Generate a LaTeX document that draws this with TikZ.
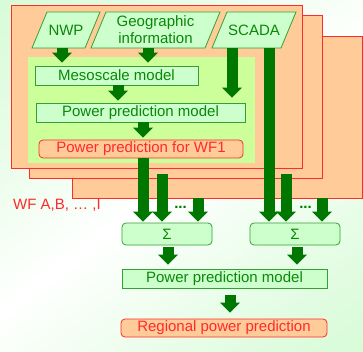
\documentclass[tikz,border=0pt]{standalone}
\usepackage{fontspec}
\setmainfont{Liberation Sans}
\usetikzlibrary{arrows.meta,calc}
\definecolor{bgg}{HTML}{C8FAC8}
\definecolor{orng}{HTML}{FFCC99}
\definecolor{redb}{HTML}{FF2A2A}
\definecolor{innerg}{HTML}{CCFF99}
\definecolor{boxf}{HTML}{CCFFCC}
\definecolor{boxb}{HTML}{33A033}
\definecolor{txtg}{HTML}{0A870A}
\definecolor{arrg}{HTML}{007700}
\pgfdeclareverticalshading{bgshade}{100bp}{color(0bp)=(bgg); color(30bp)=(bgg!45!white); color(50bp)=(white); color(70bp)=(bgg!45!white); color(100bp)=(bgg)}
\begin{document}
\begin{tikzpicture}[x=1pt,y=-1pt,
  font=\fontsize{15}{17}\selectfont,
  layer/.style={fill=orng, draw=redb, line width=0.8pt},
  gbox/.style={rectangle, fill=boxf, draw=boxb, line width=0.8pt, text=txtg, inner sep=0pt},
  rbox/.style={rectangle, rounded corners=4pt, fill=orng, draw=redb, line width=0.8pt, text=redb, inner sep=0pt},
  sbox/.style={rectangle, rounded corners=4pt, fill=boxf, draw=boxb, line width=0.8pt, text=txtg, inner sep=0pt, minimum width=90pt, minimum height=22pt},
  para/.style={fill=boxf, draw=boxb, line width=0.8pt},
  ptext/.style={text=txtg, inner sep=0pt, minimum height=36pt, align=center},
  barrow/.style={draw=arrg, line width=11pt, -{Triangle[width=20pt,length=10pt,line width=0pt]}},
  dotsty/.style={text=arrg, font=\fontsize{15}{17}\selectfont\bfseries, inner sep=0pt, anchor=base}
]
\useasboundingbox (0,0) rectangle (363,352);
\shade[shading=bgshade, shading angle=37] (0,0) rectangle (363,352);

% third layer
\draw[layer] (72,36) rectangle (362,198);
\coordinate (l3a) at (198,198);
\coordinate (l3b) at (322,198);

% second layer
\draw[layer] (29,15) rectangle (322,178);
\coordinate (l2a) at (162,174);
\coordinate (l2b) at (286,174);

% sum boxes
\node[sbox] (sig1) at (167,234) {Σ};
\node[sbox] (sig2) at (295,234) {Σ};

\draw[barrow, shorten >=1pt] (l2a) -- (l2a |- sig1.north);
\draw[barrow, shorten >=1pt] (l2b) -- (l2b |- sig2.north);
\draw[barrow, shorten >=1pt] (l3a) -- (l3a |- sig1.north);
\draw[barrow, shorten >=1pt] (l3b) -- (l3b |- sig2.north);

% front layer
\draw[layer] (11,5) rectangle (302,168);
\fill[innerg] (28,57) rectangle (255,163);

% parallelograms
\coordinate (nwpc) at (66,30);
\coordinate (geoc) at (155.5,30);
\coordinate (scadac) at (254,30);
\draw[para] ($(nwpc)+(-34,18)$) -- ($(nwpc)+(19,18)$) -- ($(nwpc)+(34,-18)$) -- ($(nwpc)+(-19,-18)$) -- cycle;
\draw[para] ($(geoc)+(-64.5,18)$) -- ($(geoc)+(49.5,18)$) -- ($(geoc)+(64.5,-18)$) -- ($(geoc)+(-49.5,-18)$) -- cycle;
\draw[para] ($(scadac)+(-42,18)$) -- ($(scadac)+(27,18)$) -- ($(scadac)+(42,-18)$) -- ($(scadac)+(-27,-18)$) -- cycle;
\node[ptext, minimum width=53pt] (nwp) at (nwpc) {NWP};
\node[ptext, minimum width=114pt] (geo) at (geoc) {Geographic\\information};
\node[ptext, minimum width=69pt] (scada) at (scadac) {SCADA};

% inner boxes
\node[gbox, minimum width=163pt, minimum height=19pt] (meso) at (116.5,75.5) {Mesoscale model};
\node[gbox, minimum width=209pt, minimum height=19pt] (ppm1) at (140.5,112.5) {Power prediction model};
\node[rbox, minimum width=204pt, minimum height=18pt] (wf1) at (141,149) {Power prediction for WF1};

\draw[barrow, shorten >=3pt] ([xshift=-4pt]nwp.south) -- ([xshift=-4pt]nwp.south |- meso.north);
\draw[barrow, shorten >=3pt] ([xshift=-7.5pt]geo.south) -- ([xshift=-7.5pt]geo.south |- meso.north);
\draw[barrow, shorten >=5pt] ([xshift=-22pt]scada.south) -- ([xshift=-22pt]scada.south |- ppm1.north);
\draw[barrow, shorten >=2pt] ([xshift=1.5pt]meso.south) -- ([xshift=1.5pt]meso.south |- ppm1.north);
\draw[barrow, shorten >=2pt] ([xshift=2.5pt]ppm1.south) -- ([xshift=2.5pt]ppm1.south |- wf1.north);

% front layer outputs
\draw[barrow, shorten >=1pt] ([xshift=2pt]wf1.south) -- ([xshift=2pt]wf1.south |- sig1.north);
\draw[barrow, shorten >=1pt] ([xshift=15pt]scada.south) -- ([xshift=15pt]scada.south |- sig2.north);

% dots and label
\node[dotsty] (dots1) at (180.5,208) {...};
\node[dotsty] (dots2) at (305.5,208) {...};
\node[text=redb, anchor=west, inner sep=0pt] (wflab) at (13,205) {WF A,B, … ,I};

% lower part
\node[gbox, minimum width=205pt, minimum height=19pt] (ppm2) at (224.5,278.5) {Power prediction model};
\node[rbox, minimum width=206pt, minimum height=18pt] (reg) at (224,328) {Regional power prediction};

\draw[barrow, shorten <=2pt, shorten >=4pt] ([xshift=1pt]sig1.south) -- ([xshift=1pt]sig1.south |- ppm2.north);
\draw[barrow, shorten <=2pt, shorten >=4pt] ([xshift=2pt]sig2.south) -- ([xshift=2pt]sig2.south |- ppm2.north);
\draw[barrow, shorten <=7pt, shorten >=6pt] ([xshift=5.5pt]ppm2.south) -- ([xshift=5.5pt]ppm2.south |- reg.north);
\end{tikzpicture}
\end{document}
